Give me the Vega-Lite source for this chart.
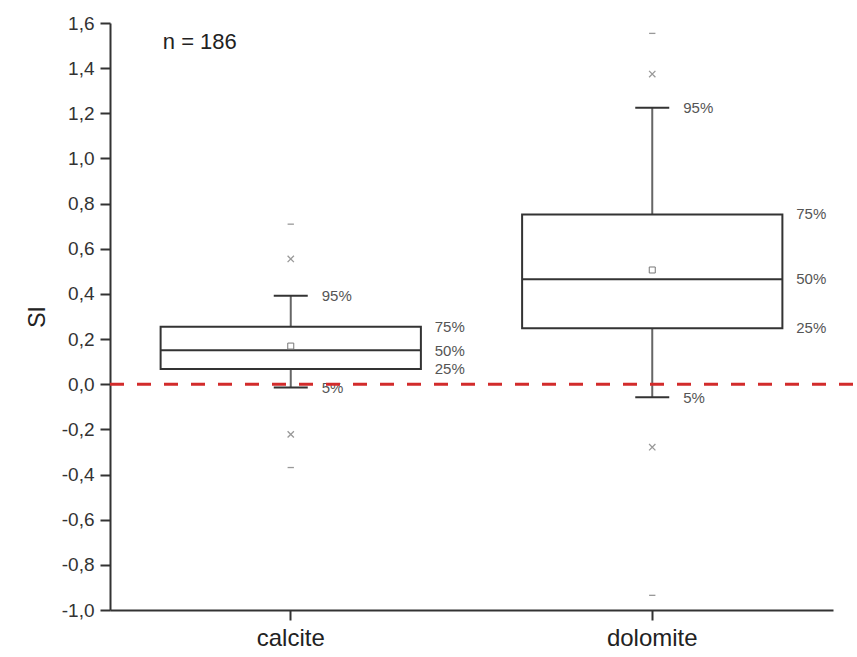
{
  "$schema": "https://vega.github.io/schema/vega-lite/v6.json",
  "width": 723,
  "height": 587,
  "autosize": "none",
  "padding": {"left": 110, "top": 23, "right": 24, "bottom": 47},
  "background": "white",
  "config": {
    "font": "Liberation Sans",
    "view": {"stroke": null},
    "axis": {"grid": false, "domainColor": "#333", "domainWidth": 2, "tickColor": "#333", "tickWidth": 2}
  },
  "datasets": {
    "stats": [
      {"mineral": "calcite", "p5": -0.014, "q1": 0.067, "median": 0.150, "q3": 0.255, "p95": 0.392, "mean": 0.169},
      {"mineral": "dolomite", "p5": -0.058, "q1": 0.248, "median": 0.465, "q3": 0.752, "p95": 1.225, "mean": 0.506}
    ],
    "outliers": [
      {"mineral": "calcite", "value": 0.709, "kind": "dash"},
      {"mineral": "calcite", "value": 0.555, "kind": "x"},
      {"mineral": "calcite", "value": -0.222, "kind": "x"},
      {"mineral": "calcite", "value": -0.369, "kind": "dash"},
      {"mineral": "dolomite", "value": 1.554, "kind": "dash"},
      {"mineral": "dolomite", "value": 1.374, "kind": "x"},
      {"mineral": "dolomite", "value": -0.279, "kind": "x"},
      {"mineral": "dolomite", "value": -0.935, "kind": "dash"}
    ],
    "wlabels": [
      {"mineral": "calcite", "label": "95%", "value": 0.392},
      {"mineral": "calcite", "label": "5%", "value": -0.018},
      {"mineral": "dolomite", "label": "95%", "value": 1.225},
      {"mineral": "dolomite", "label": "5%", "value": -0.062}
    ],
    "blabels": [
      {"mineral": "calcite", "label": "75%", "value": 0.255},
      {"mineral": "calcite", "label": "50%", "value": 0.148},
      {"mineral": "calcite", "label": "25%", "value": 0.067},
      {"mineral": "dolomite", "label": "75%", "value": 0.752},
      {"mineral": "dolomite", "label": "50%", "value": 0.465},
      {"mineral": "dolomite", "label": "25%", "value": 0.248}
    ],
    "note": [{"text": "n = 186", "xpos": 0.073, "ypos": 1.515}]
  },
  "layer": [
    {
      "encoding": {
        "x": {
          "field": "mineral", "type": "nominal",
          "scale": {"type": "band", "paddingInner": 0, "paddingOuter": 0, "domain": ["calcite", "dolomite"]},
          "axis": {"title": null, "labelAngle": 0, "labelFontSize": 24, "labelColor": "#222", "tickSize": 10, "labelPadding": 6}
        }
      },
      "layer": [
        {
          "data": {"name": "stats"},
          "mark": {"type": "rule", "color": "#666", "strokeWidth": 2},
          "encoding": {
            "y": {"field": "p5", "type": "quantitative",
              "scale": {"domain": [-1, 1.6], "nice": false, "zero": false},
              "axis": {
                "title": "SI", "titleFontSize": 23, "titleFontWeight": "normal", "titleColor": "#222", "titlePadding": 12,
                "values": [-1, -0.8, -0.6, -0.4, -0.2, 0, 0.2, 0.4, 0.6, 0.8, 1, 1.2, 1.4, 1.6],
                "labelExpr": "replace(replace(format(datum.value, '.1f'), '.', ','), '\u2212', '-')",
                "labelFontSize": 19, "labelColor": "#333", "tickSize": 10, "labelPadding": 6
              }
            },
            "y2": {"field": "q1"}
          }
        },
        {
          "data": {"name": "stats"},
          "mark": {"type": "rule", "color": "#666", "strokeWidth": 2},
          "encoding": {
            "y": {"field": "q3", "type": "quantitative"},
            "y2": {"field": "p95"}
          }
        },
        {
          "data": {"name": "stats"},
          "mark": {"type": "tick", "color": "#333", "opacity": 1, "size": 34, "thickness": 2},
          "encoding": {"y": {"field": "p5", "type": "quantitative"}}
        },
        {
          "data": {"name": "stats"},
          "mark": {"type": "tick", "color": "#333", "opacity": 1, "size": 34, "thickness": 2},
          "encoding": {"y": {"field": "p95", "type": "quantitative"}}
        },
        {
          "data": {"name": "stats"},
          "mark": {"type": "bar", "fill": "white", "stroke": "#333", "strokeWidth": 2, "width": {"band": 0.72}},
          "encoding": {
            "y": {"field": "q1", "type": "quantitative"},
            "y2": {"field": "q3"}
          }
        },
        {
          "data": {"name": "stats"},
          "mark": {"type": "tick", "color": "#333", "opacity": 1, "size": 260, "thickness": 2},
          "encoding": {"y": {"field": "median", "type": "quantitative"}}
        },
        {
          "data": {"name": "stats"},
          "mark": {"type": "point", "shape": "square", "filled": false, "stroke": "#777", "strokeWidth": 1, "size": 36, "opacity": 1},
          "encoding": {"y": {"field": "mean", "type": "quantitative"}}
        },
        {
          "data": {"name": "outliers"},
          "mark": {"type": "point", "filled": false, "stroke": "#999", "strokeWidth": 1.3, "size": 40, "opacity": 1},
          "encoding": {
            "y": {"field": "value", "type": "quantitative"},
            "shape": {
              "field": "kind", "type": "nominal", "legend": null,
              "scale": {"domain": ["x", "dash"], "range": ["M-1,-1L1,1M-1,1L1,-1", "M-1,0L1,0"]}
            }
          }
        },
        {
          "data": {"name": "wlabels"},
          "mark": {"type": "text", "align": "left", "baseline": "middle", "dx": 31, "fontSize": 15, "color": "#555"},
          "encoding": {
            "y": {"field": "value", "type": "quantitative"},
            "text": {"field": "label"}
          }
        },
        {
          "data": {"name": "blabels"},
          "mark": {"type": "text", "align": "left", "baseline": "middle", "dx": 144, "fontSize": 15, "color": "#555"},
          "encoding": {
            "y": {"field": "value", "type": "quantitative"},
            "text": {"field": "label"}
          }
        }
      ]
    },
    {
      "data": {"values": [{"v": 0}]},
      "mark": {"type": "rule", "color": "#d22b2b", "strokeWidth": 3, "strokeDash": [14, 13]},
      "encoding": {
        "x": {"datum": 0, "type": "quantitative", "scale": {"domain": [0, 1], "nice": false, "zero": false}, "axis": null},
        "x2": {"datum": 1.033},
        "y": {"field": "v", "type": "quantitative"}
      }
    },
    {
      "data": {"name": "note"},
      "mark": {"type": "text", "align": "left", "baseline": "middle", "fontSize": 22, "color": "#222"},
      "encoding": {
        "x": {"field": "xpos", "type": "quantitative", "scale": {"domain": [0, 1], "nice": false, "zero": false}, "axis": null},
        "y": {"field": "ypos", "type": "quantitative"},
        "text": {"field": "text"}
      }
    }
  ],
  "resolve": {"scale": {"x": "independent"}, "axis": {"x": "independent"}}
}
